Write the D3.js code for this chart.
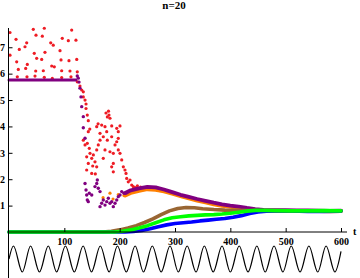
<!DOCTYPE html>
<html><head><meta charset="utf-8">
<script src="https://cdn.jsdelivr.net/npm/d3@7"></script>
<style>body{margin:0;background:#fff}svg{display:block}</style>
</head><body>
<svg id="c" width="360" height="278"></svg>
<script>
// ---- data ----
const title = "n=20";
const xTicks = [100, 200, 300, 400, 500, 600];
const yTicks = [1, 2, 3, 4, 5, 6, 7];

// red scattered points: [t, value]
const redPts = [
 [1.8,7.56],[1.8,6.70],
 [12.7,7.30],[13.9,6.45],[16.8,6.16],[15.0,5.88],[18.6,6.92],
 [28.9,7.02],[30.2,6.20],[32.0,7.17],[33.1,6.35],[32.5,5.88],
 [43.9,7.68],[45.7,6.77],[48.8,7.46],[48.3,6.10],[47.0,5.91],[50.0,6.58],
 [59.1,6.54],[60.2,7.42],[62.0,6.11],[63.8,7.72],[65.0,6.81],[63.8,5.86],
 [75.4,7.17],[77.2,6.29],[78.3,5.82],[80.0,7.08],[81.9,6.26],
 [92.2,6.87],[94.0,6.52],[95.2,6.11],[95.2,5.85],[96.3,7.34],
 [107.2,7.25],[108.4,6.49],[110.2,6.10],[112.0,5.88],[113.3,7.65],
 [121.0,7.27],[122.4,6.54],[123.4,6.07],
 [123.4,5.69],[128.3,5.53],[131.4,5.38],[134.3,5.31],[134.3,5.12],[137.4,5.00],
 [139.2,4.85],[139.2,4.68],[141.5,4.43],[143.3,4.22],
 [134.3,3.48],[137.4,3.30],[141.5,3.36],[145.1,3.17],[146.4,2.98],[140.4,2.85],
 [149.5,2.79],[152.4,2.92],[155.4,2.66],[158.5,3.11],[161.4,3.30],[164.5,3.48],
 [158.5,2.47],[151.3,2.50],[143.3,2.60],[140.4,2.35],[149.5,2.22],[156.0,2.20],
 [143.3,3.80],[158.5,3.99],[164.5,3.74],[161.0,4.10],[146.0,3.90],
 [167.5,4.05],[170.4,3.61],[170.4,2.79],[173.5,3.99],[173.5,3.11],[175.3,4.51],
 [176.6,3.80],[177.7,4.36],[177.7,3.48],[179.8,4.58],[180.7,4.43],[182.5,4.31],
 [182.5,3.04],[185.6,4.02],[185.6,3.61],[185.6,2.47],[188.5,2.98],[188.5,2.60],
 [188.5,2.28],[191.6,3.30],[194.7,3.93],[194.7,3.42],[197.5,3.80],[197.5,3.55],
 [197.5,3.11],[200.6,2.98],[200.6,4.02],[203.7,2.73],[206.6,2.47],[209.6,2.35],
 [211.5,2.22],[212.7,2.03],[215.6,1.90],[218.7,1.97],[221.8,1.78],[224.6,1.72],
 [228.0,1.68],[232.0,1.75],[238.0,1.70]
];

// purple: flat line, then scattered points, then band
const purpleFlatT = [0, 121];
const purpleFlatV = [5.76, 5.76];
const purplePts = [
 [123.4,5.91],[125.2,5.83],[126.5,5.68],[128.3,5.45],[130.1,5.12],[131.4,4.75],
 [134.3,4.37],[134.3,3.95],[137.4,3.55],
 [137.4,1.84],[139.2,1.59],[141.5,1.21],[143.3,1.15],[140.4,1.40],[145.1,1.47],
 [149.5,1.40],[155.4,1.72],[158.5,1.84],[159.6,1.97],[161.4,1.66],[164.5,1.53],
 [164.5,0.96],[167.5,1.09],[170.4,1.21],[173.5,1.02],[176.6,1.15],[179.5,1.28],
 [182.5,1.09],[185.6,1.15],[188.5,0.96],[191.6,1.09],[194.7,1.21],[197.5,1.34],
 [200.6,1.40],[203.7,1.53],[207.8,1.47],[212.7,1.49]
];
const bandT   = [210,220,235,250,265,280,295,310,325,340,355,370,385,400,415,430,445,460,480,500,520,540,560,580,600];
const purpleV = [1.45,1.55,1.62,1.68,1.66,1.58,1.48,1.38,1.30,1.22,1.15,1.08,1.02,0.97,0.93,0.88,0.84,0.81,0.80,0.80,0.79,0.79,0.78,0.77,0.78];
const orangeV = [1.38,1.48,1.56,1.62,1.60,1.54,1.45,1.36,1.27,1.19,1.12,1.05,0.99,0.95,0.91,0.87,0.84,0.82,0.81,0.80,0.80,0.79,0.79,0.78,0.79];
const orangePts = [[170,1.30],[182.5,1.47],[188,1.25],[197.5,1.42],[207.8,1.38],[212,1.42]];

const brownT = [0,170,185,200,215,230,245,260,275,290,305,320,335,350,370,390,410,430,450,480,510,540,570,600];
const brownV = [0,0.00,0.03,0.08,0.15,0.24,0.36,0.50,0.66,0.80,0.89,0.93,0.92,0.88,0.85,0.83,0.82,0.81,0.80,0.80,0.80,0.79,0.80,0.80];
const greenT = [0,190,205,220,235,250,265,280,295,310,325,340,355,370,385,400,415,430,445,460,480,510,540,570,600];
const greenV = [0,0.00,0.03,0.08,0.15,0.24,0.35,0.46,0.54,0.58,0.61,0.63,0.65,0.66,0.68,0.71,0.75,0.79,0.82,0.82,0.81,0.80,0.80,0.81,0.80];
const blueT = [0,210,225,240,255,270,285,300,315,330,345,360,375,390,405,420,435,450,465,480,510,540,570,600];
const blueV = [0,0.00,0.02,0.06,0.12,0.20,0.27,0.32,0.35,0.38,0.42,0.45,0.48,0.51,0.56,0.62,0.70,0.76,0.79,0.80,0.80,0.78,0.78,0.79];

// forcing signal (lower panel): extrema times
const sinePeakT   = [8,39,71,102,134,165,196,228,259,291,322,353,385,416,448,479,510,542,573];
const sineTroughT = [24,55,86,118,149,181,212,243,275,306,338,369,400,432,463,495,526,558,589];
const sineEnd = [600, 0.58];

// ---- drawing ----
const svg = d3.select("#c");
const x = d3.scaleLinear().domain([0,600]).range([9,341]);
const y = d3.scaleLinear().domain([0,7.73]).range([232,28]);
const ys = d3.scaleLinear().domain([-1,1]).range([272,246]);

const col = {red:"#ee1c24", purple:"#800080", orange:"#ff8000", brown:"#996633", green:"#00ff00", blue:"#0000ff"};
const line = d3.line().x(d=>x(d[0])).y(d=>y(d[1]));
const zip = (a,b)=>a.map((t,i)=>[t,b[i]]);

const g = svg.append("g");
function drawLine(data,c,w){
  g.append("path").attr("d",line(data)).attr("fill","none").attr("stroke",c)
   .attr("stroke-width",w).attr("stroke-linejoin","round").attr("stroke-linecap","round");
}
function drawPts(data,c,r){
  g.append("g").selectAll("circle").data(data).join("circle")
   .attr("cx",d=>x(d[0])).attr("cy",d=>y(d[1])).attr("r",r).attr("fill",c);
}

drawPts(redPts, col.red, 1.6);
drawLine(zip(bandT,orangeV), col.orange, 3.8);
drawPts(orangePts, col.orange, 1.6);
drawLine(zip(purpleFlatT,purpleFlatV), col.purple, 3);
drawPts(purplePts, col.purple, 1.7);
drawLine(zip(bandT,purpleV).map(d=>[d[0],d[1]+0.03]), col.purple, 3.8);
drawLine(zip(brownT,brownV), col.brown, 3.6);
drawLine(zip(blueT,blueV), col.blue, 3.6);
drawLine(zip(greenT,greenV), col.green, 3.6);

// axes
const fontFam = "'Liberation Serif','Times New Roman',Times,serif";
const xa = svg.append("g").attr("transform","translate(0,232)")
  .call(d3.axisBottom(x).tickValues(xTicks).tickSize(-4).tickPadding(5.5).tickFormat(d3.format("d")));
xa.select(".domain").remove();
const ya = svg.append("g").attr("transform","translate(8.5,0)")
  .call(d3.axisLeft(y).tickValues(yTicks).tickSize(-4).tickPadding(3.5).tickFormat(d3.format("d")));
ya.select(".domain").remove();
svg.selectAll(".tick line").attr("stroke","#000");
svg.selectAll(".tick text").attr("font-family",fontFam).attr("font-size","10px")
  .attr("font-weight","bold").attr("fill","#000");

svg.append("line").attr("x1",8.5).attr("x2",347).attr("y1",232).attr("y2",232).attr("stroke","#000");
svg.append("line").attr("x1",8.5).attr("x2",8.5).attr("y1",28).attr("y2",278).attr("stroke","#000");
svg.append("text").attr("x",353).attr("y",234.5).text("t")
  .attr("font-family",fontFam).attr("font-size","10px").attr("font-weight","bold");
svg.append("text").attr("x",174).attr("y",9).attr("text-anchor","middle").text(title)
  .attr("font-family",fontFam).attr("font-size","11px").attr("font-weight","bold");

// lower panel: forcing
const sinePts = [[0,0]]
  .concat(sinePeakT.map(t=>[t,1]), sineTroughT.map(t=>[t,-1]))
  .sort((a,b)=>a[0]-b[0]);
sinePts.push(sineEnd);
svg.append("path")
  .attr("d", d3.line().x(d=>x(d[0])).y(d=>ys(d[1])).curve(d3.curveMonotoneX)(sinePts))
  .attr("fill","none").attr("stroke","#000").attr("stroke-width",1.2);
</script>
</body></html>
